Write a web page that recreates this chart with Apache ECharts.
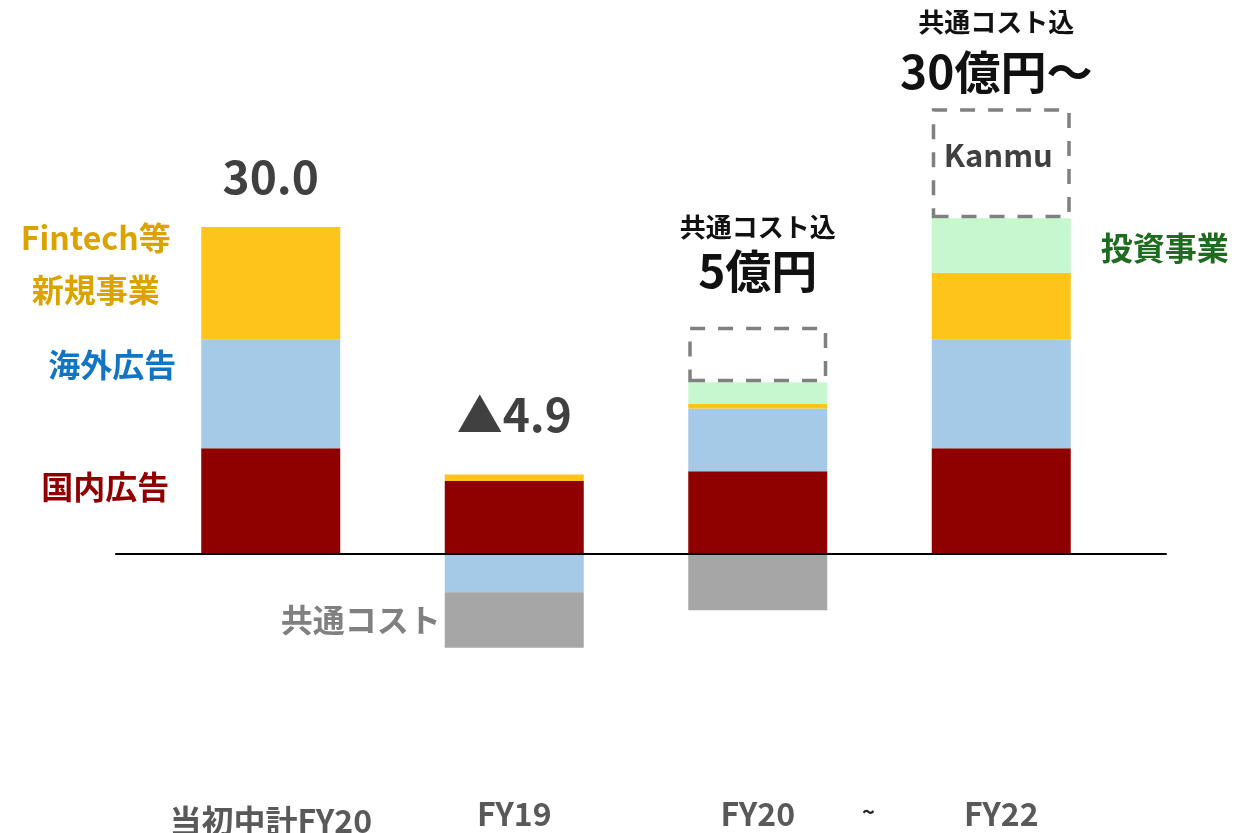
<!DOCTYPE html>
<html>
<head>
<meta charset="utf-8">
<script src="https://cdn.jsdelivr.net/npm/echarts@6/dist/echarts.min.js"></script>
<style>
html,body{margin:0;padding:0;background:#fff;}
#chart{width:1253px;height:833px;}
</style>
</head>
<body>
<div id="chart"></div>
<script>
const categories = ['当初中計FY20', 'FY19', 'FY20', 'FY22'];
const domesticAds = [9.7, 6.7, 7.6, 9.7];
const overseasAds = [10.0, -3.5, 5.75, 10.0];
const fintech = [10.3, 0.6, 0.45, 6.1];
const investment = ['-', '-', 1.95, 5.0];
const commonCost = ['-', -5.1, -5.15, '-'];
const outlook = ['-', '-', 5.1, 10.1];
const topLabels = ['30.0', '▲4.9', '共通コスト込\n5億円', '共通コスト込\n30億円～'];

const FONT = '"Noto Sans CJK JP", "Noto Sans", sans-serif';
const chart = echarts.init(document.getElementById('chart'));

// height of each positive stack (used only to anchor the labels above each bar)
const num = v => (typeof v === 'number' && v > 0 ? v : 0);
const stackTops = categories.map((_, i) =>
  num(domesticAds[i]) + num(overseasAds[i]) + num(fintech[i]) + num(investment[i]) + num(outlook[i]));

function sideLabel(text, color, pos, dist, dy) {
  return {
    show: true, formatter: text, position: pos, distance: dist, align: 'center',
    offset: [0, dy], color: color, fontSize: 32, fontWeight: 'bold',
    fontFamily: FONT, lineHeight: 52
  };
}

const baseBar = { type: 'bar', stack: 'total', barWidth: 139, xAxisIndex: 0, yAxisIndex: 0 };

const topLabelData = stackTops.map((v, i) => {
  const item = { value: v };
  if (i < 2) {
    item.label = { show: true, position: 'top', distance: i === 0 ? 27 : 37,
      formatter: topLabels[i], fontSize: 46, fontWeight: 'bold', color: '#404040',
      fontFamily: FONT, lineHeight: 46 };
  } else {
    const lines = topLabels[i].split('\n');
    item.label = { show: true, position: 'top', distance: i === 2 ? 30 : 11,
      offset: i === 3 ? [-5, 0] : [0, 0],
      formatter: '{s' + i + '|' + lines[0] + '}\n{b|' + lines[1] + '}',
      rich: {
        s2: { fontSize: 26, fontWeight: 'bold', color: '#111', fontFamily: FONT, lineHeight: 36 },
        s3: { fontSize: 26, fontWeight: 'bold', color: '#111', fontFamily: FONT, lineHeight: 46 },
        b: { fontSize: 46, fontWeight: 'bold', color: '#111', fontFamily: FONT, lineHeight: 52 }
      } };
  }
  return item;
});

const option = {
  animation: false,
  backgroundColor: '#fff',
  grid: [
    { left: 149, width: 974, top: 63.5, height: 708.5, outerBoundsMode: 'none', containLabel: false },
    { left: 116, width: 1050, top: 63.5, height: 708.5, outerBoundsMode: 'none', containLabel: false }
  ],
  xAxis: [
    { type: 'category', gridIndex: 0, data: categories,
      axisLine: { show: false }, axisTick: { show: false },
      axisLabel: { interval: 0, margin: 26, fontSize: 32, fontWeight: 'bold', color: '#595959', fontFamily: FONT,
        hideOverlap: false,
        formatter: (v, i) => i === 0 ? '{a|' + v + '}' : v,
        rich: { a: { fontSize: 32, fontWeight: 'bold', color: '#595959', fontFamily: FONT, padding: [7, 0, 0, 0] } } } },
    { type: 'value', gridIndex: 1, min: 0, max: 1, z: 10,
      axisLine: { show: true, onZero: true, lineStyle: { color: '#000', width: 2 } },
      axisTick: { show: false }, axisLabel: { show: false }, splitLine: { show: false } }
  ],
  yAxis: [
    { type: 'value', gridIndex: 0, min: -20, max: 45, show: false },
    { type: 'value', gridIndex: 1, min: -20, max: 45, show: false }
  ],
  graphic: [
    { type: 'text', left: 862, top: 801, z: 10,
      style: { text: '~', font: 'bold 22px ' + FONT, fill: '#222' } }
  ],
  series: [
    Object.assign({}, baseBar, { name: '国内広告', itemStyle: { color: '#8F0000' },
      data: domesticAds.map((v, i) => i === 0 ? { value: v, label: sideLabel('国内広告', '#8F0000', 'left', 96, -14) } : v) }),
    Object.assign({}, baseBar, { name: '海外広告', itemStyle: { color: '#A4CAE7' },
      data: overseasAds.map((v, i) => i === 0 ? { value: v, label: sideLabel('海外広告', '#1275C4', 'left', 89, -29) } : v) }),
    Object.assign({}, baseBar, { name: 'Fintech等新規事業', itemStyle: { color: '#FEC41A' },
      data: fintech.map((v, i) => i === 0 ? { value: v, label: sideLabel('Fintech等\n新規事業', '#DBA300', 'left', 105.5, -19) } : v) }),
    Object.assign({}, baseBar, { name: '投資事業', itemStyle: { color: '#C7F7CE' },
      data: investment.map((v, i) => i === 3 ? { value: v, label: sideLabel('投資事業', '#1F6B1F', 'right', 94, 2) } : v) }),
    Object.assign({}, baseBar, { name: '見込', itemStyle: { color: 'rgba(0,0,0,0)', borderColor: '#808080', borderWidth: 3.5, borderType: [15, 13] },
      data: outlook.map((v, i) => i === 3 ? { value: v, label: { show: true, position: 'inside', formatter: 'Kanmu', offset: [-3, -8],
        fontSize: 31, fontWeight: 'bold', color: '#404040', fontFamily: FONT } } : v) }),
    Object.assign({}, baseBar, { name: '共通コスト', itemStyle: { color: '#A6A6A6' },
      data: commonCost.map((v, i) => i === 1 ? { value: v, label: sideLabel('共通コスト', '#808080', 'left', 84, 0) } : v) }),
    { type: 'bar', name: 'top', barWidth: 139, barGap: '-100%', z: 1, silent: true,
      xAxisIndex: 0, yAxisIndex: 0,
      itemStyle: { color: 'rgba(0,0,0,0)', borderWidth: 0 },
      data: topLabelData }
  ]
};
chart.setOption(option);
</script>
</body>
</html>
